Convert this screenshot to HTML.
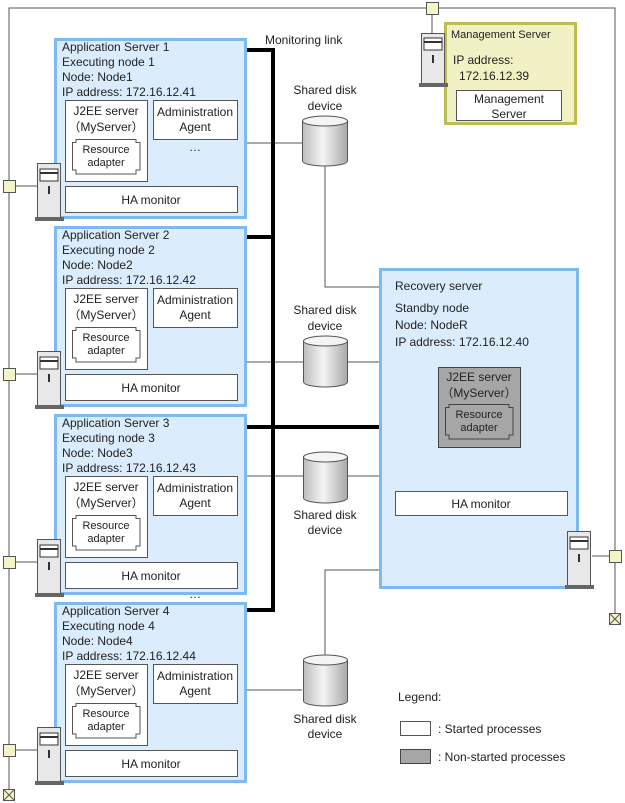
<!DOCTYPE html>
<html><head><meta charset="utf-8"><style>
html,body{margin:0;padding:0;background:#fff}
svg{display:block}
text{font-family:"Liberation Sans",sans-serif;font-size:12px;fill:#222}
.s{font-size:11px}
.c{text-anchor:middle}
</style></head><body>
<svg width="625" height="803" viewBox="0 0 625 803" xmlns="http://www.w3.org/2000/svg">
<defs>
<linearGradient id="cy" x1="0" x2="1" y1="0" y2="0">
<stop offset="0" stop-color="#bdbdbd"/><stop offset="0.45" stop-color="#f4f4f4"/><stop offset="1" stop-color="#a8a8a8"/>
</linearGradient>
</defs>
<g stroke="#555" stroke-width="1" fill="none">
<polyline points="9,790 9,8 615,8 615,615"/>
<line x1="432" y1="8" x2="432" y2="33"/>
<line x1="245" y1="143" x2="302" y2="143"/>
<polyline points="325,165 325,287 380,287"/>
<line x1="245" y1="362" x2="380" y2="362"/>
<line x1="245" y1="476" x2="380" y2="476"/>
<polyline points="325,655 325,570 380,570"/>
<line x1="245" y1="690" x2="302" y2="690"/>
<line x1="592" y1="556" x2="610" y2="556"/>
</g>
<g stroke="#000" stroke-width="4" fill="none">
<polyline points="245,50 273,50 273,610 245,610"/>
<line x1="245" y1="237" x2="273" y2="237"/>
<line x1="245" y1="427" x2="380" y2="427"/>
</g>
<text x="265" y="44">Monitoring link</text>

<g transform="translate(0,38)">
<rect x="55.5" y="1.5" width="190" height="178" fill="#dbecfd" stroke="#7fb9f2" stroke-width="3"/>
<text x="62" y="13">Application Server 1</text><text x="62" y="28">Executing node 1</text><text x="62" y="43">Node: Node1</text><text x="62" y="58">IP address: 172.16.12.41</text>
<rect x="65.5" y="62.5" width="82" height="81" fill="#fff" stroke="#555"/>
<text class="c" x="106" y="77">J2EE server</text><text class="c" x="106" y="93">（MyServer）</text>
<polygon points="76,101.5 136,101.5 136,104.5 140,104.5 140,132 136,132 136,136 76,136 76,132 72.5,132 72.5,104.5 76,104.5" fill="#fff" stroke="#555"/>
<text class="c s" x="106" y="115">Resource</text><text class="c s" x="106" y="128">adapter</text>
<rect x="153.5" y="62.5" width="84" height="39" fill="#fff" stroke="#555"/>
<text class="c" x="195" y="78">Administration</text><text class="c" x="195" y="93">Agent</text>
<text class="c" x="195" y="113">…</text>
<rect x="65.5" y="148.5" width="172" height="26" fill="#fff" stroke="#555"/>
<text class="c" x="151" y="166">HA monitor</text>
<line x1="15" y1="148" x2="37" y2="148" stroke="#555"/>
<rect x="3.5" y="142.5" width="12" height="12" fill="#f5f3c8" stroke="#555"/>
<rect x="37.5" y="125.5" width="23" height="54" fill="#e8e8e8" stroke="#555"/>
<rect x="40" y="131" width="18" height="12" fill="#fff" stroke="#333"/><line x1="40" y1="135" x2="58" y2="135" stroke="#333" stroke-width="2"/>
<rect x="48" y="148" width="2" height="8" fill="#333"/>
<rect x="35" y="179" width="29" height="4" fill="#666"/>
</g>
<g transform="translate(0,226)">
<rect x="55.5" y="1.5" width="190" height="178" fill="#dbecfd" stroke="#7fb9f2" stroke-width="3"/>
<text x="62" y="13">Application Server 2</text><text x="62" y="28">Executing node 2</text><text x="62" y="43">Node: Node2</text><text x="62" y="58">IP address: 172.16.12.42</text>
<rect x="65.5" y="62.5" width="82" height="81" fill="#fff" stroke="#555"/>
<text class="c" x="106" y="77">J2EE server</text><text class="c" x="106" y="93">（MyServer）</text>
<polygon points="76,101.5 136,101.5 136,104.5 140,104.5 140,132 136,132 136,136 76,136 76,132 72.5,132 72.5,104.5 76,104.5" fill="#fff" stroke="#555"/>
<text class="c s" x="106" y="115">Resource</text><text class="c s" x="106" y="128">adapter</text>
<rect x="153.5" y="62.5" width="84" height="39" fill="#fff" stroke="#555"/>
<text class="c" x="195" y="78">Administration</text><text class="c" x="195" y="93">Agent</text>
<text class="c" x="195" y="161">…</text>
<rect x="65.5" y="148.5" width="172" height="26" fill="#fff" stroke="#555"/>
<text class="c" x="151" y="166">HA monitor</text>
<line x1="15" y1="148" x2="37" y2="148" stroke="#555"/>
<rect x="3.5" y="142.5" width="12" height="12" fill="#f5f3c8" stroke="#555"/>
<rect x="37.5" y="125.5" width="23" height="54" fill="#e8e8e8" stroke="#555"/>
<rect x="40" y="131" width="18" height="12" fill="#fff" stroke="#333"/><line x1="40" y1="135" x2="58" y2="135" stroke="#333" stroke-width="2"/>
<rect x="48" y="148" width="2" height="8" fill="#333"/>
<rect x="35" y="179" width="29" height="4" fill="#666"/>
</g>
<g transform="translate(0,414)">
<rect x="55.5" y="1.5" width="190" height="178" fill="#dbecfd" stroke="#7fb9f2" stroke-width="3"/>
<text x="62" y="13">Application Server 3</text><text x="62" y="28">Executing node 3</text><text x="62" y="43">Node: Node3</text><text x="62" y="58">IP address: 172.16.12.43</text>
<rect x="65.5" y="62.5" width="82" height="81" fill="#fff" stroke="#555"/>
<text class="c" x="106" y="77">J2EE server</text><text class="c" x="106" y="93">（MyServer）</text>
<polygon points="76,101.5 136,101.5 136,104.5 140,104.5 140,132 136,132 136,136 76,136 76,132 72.5,132 72.5,104.5 76,104.5" fill="#fff" stroke="#555"/>
<text class="c s" x="106" y="115">Resource</text><text class="c s" x="106" y="128">adapter</text>
<rect x="153.5" y="62.5" width="84" height="39" fill="#fff" stroke="#555"/>
<text class="c" x="195" y="78">Administration</text><text class="c" x="195" y="93">Agent</text>
<text class="c" x="195" y="184">…</text>
<rect x="65.5" y="148.5" width="172" height="26" fill="#fff" stroke="#555"/>
<text class="c" x="151" y="166">HA monitor</text>
<line x1="15" y1="148" x2="37" y2="148" stroke="#555"/>
<rect x="3.5" y="142.5" width="12" height="12" fill="#f5f3c8" stroke="#555"/>
<rect x="37.5" y="125.5" width="23" height="54" fill="#e8e8e8" stroke="#555"/>
<rect x="40" y="131" width="18" height="12" fill="#fff" stroke="#333"/><line x1="40" y1="135" x2="58" y2="135" stroke="#333" stroke-width="2"/>
<rect x="48" y="148" width="2" height="8" fill="#333"/>
<rect x="35" y="179" width="29" height="4" fill="#666"/>
</g>
<g transform="translate(0,602)">
<rect x="55.5" y="1.5" width="190" height="178" fill="#dbecfd" stroke="#7fb9f2" stroke-width="3"/>
<text x="62" y="13">Application Server 4</text><text x="62" y="28">Executing node 4</text><text x="62" y="43">Node: Node4</text><text x="62" y="58">IP address: 172.16.12.44</text>
<rect x="65.5" y="62.5" width="82" height="81" fill="#fff" stroke="#555"/>
<text class="c" x="106" y="77">J2EE server</text><text class="c" x="106" y="93">（MyServer）</text>
<polygon points="76,101.5 136,101.5 136,104.5 140,104.5 140,132 136,132 136,136 76,136 76,132 72.5,132 72.5,104.5 76,104.5" fill="#fff" stroke="#555"/>
<text class="c s" x="106" y="115">Resource</text><text class="c s" x="106" y="128">adapter</text>
<rect x="153.5" y="62.5" width="84" height="39" fill="#fff" stroke="#555"/>
<text class="c" x="195" y="78">Administration</text><text class="c" x="195" y="93">Agent</text>
<rect x="65.5" y="148.5" width="172" height="26" fill="#fff" stroke="#555"/>
<text class="c" x="151" y="166">HA monitor</text>
<line x1="15" y1="148" x2="37" y2="148" stroke="#555"/>
<rect x="3.5" y="142.5" width="12" height="12" fill="#f5f3c8" stroke="#555"/>
<rect x="37.5" y="125.5" width="23" height="54" fill="#e8e8e8" stroke="#555"/>
<rect x="40" y="131" width="18" height="12" fill="#fff" stroke="#333"/><line x1="40" y1="135" x2="58" y2="135" stroke="#333" stroke-width="2"/>
<rect x="48" y="148" width="2" height="8" fill="#333"/>
<rect x="35" y="179" width="29" height="4" fill="#666"/>
</g>
<rect x="3.5" y="789.5" width="11" height="11" fill="#f5f3c8" stroke="#555"/>
<path d="M3.5,789.5L14.5,800.5M14.5,789.5L3.5,800.5" stroke="#555"/>

<g stroke="#555" fill="url(#cy)">
<path d="M302.5,121 v40 a22.5,5 0 0 0 45,0 v-40 z"/><ellipse cx="325" cy="121" rx="22.5" ry="5" fill="#f4f4f4"/>
<path d="M303.5,341 v41 a22,5 0 0 0 44,0 v-41 z"/><ellipse cx="325.5" cy="341" rx="22" ry="5" fill="#f4f4f4"/>
<path d="M303.5,457 v41 a22,5 0 0 0 44,0 v-41 z"/><ellipse cx="325.5" cy="457" rx="22" ry="5" fill="#f4f4f4"/>
<path d="M303.5,660 v41 a22,5 0 0 0 44,0 v-41 z"/><ellipse cx="325.5" cy="660" rx="22" ry="5" fill="#f4f4f4"/>
</g>
<text class="c" x="325" y="94">Shared disk</text><text class="c" x="325" y="110">device</text>
<text class="c" x="325" y="314">Shared disk</text><text class="c" x="325" y="330">device</text>
<text class="c" x="325" y="519">Shared disk</text><text class="c" x="325" y="534">device</text>
<text class="c" x="325" y="723">Shared disk</text><text class="c" x="325" y="738">device</text>

<rect x="380.5" y="269.5" width="197" height="318" fill="#dbecfd" stroke="#7fb9f2" stroke-width="3"/>
<text x="395" y="290">Recovery server</text>
<text x="395" y="312">Standby node</text>
<text x="395" y="329">Node: NodeR</text>
<text x="395" y="346">IP address: 172.16.12.40</text>
<rect x="438.5" y="367.5" width="82" height="80" fill="#a6a6a6" stroke="#444"/>
<text class="c" x="479" y="381">J2EE server</text><text class="c" x="479" y="397">（MyServer）</text>
<polygon points="449,404.5 509,404.5 509,407.5 513,407.5 513,435 509,435 509,439 449,439 449,435 445.5,435 445.5,407.5 449,407.5" fill="#a6a6a6" stroke="#444"/>
<text class="c s" x="479" y="418">Resource</text><text class="c s" x="479" y="431">adapter</text>
<rect x="395.5" y="491.5" width="172" height="24" fill="#fff" stroke="#555"/>
<text class="c" x="481" y="508">HA monitor</text>
<rect x="567.5" y="531.5" width="23" height="54" fill="#e8e8e8" stroke="#555"/>
<rect x="570" y="537" width="18" height="12" fill="#fff" stroke="#333"/><line x1="570" y1="541" x2="588" y2="541" stroke="#333" stroke-width="2"/>
<rect x="578" y="554" width="2" height="8" fill="#333"/>
<rect x="565" y="585" width="29" height="4" fill="#666"/>
<rect x="609.5" y="550.5" width="12" height="12" fill="#f5f3c8" stroke="#555"/>
<rect x="609.5" y="613.5" width="11" height="11" fill="#f5f3c8" stroke="#555"/>
<path d="M609.5,613.5L620.5,624.5M620.5,613.5L609.5,624.5" stroke="#555"/>

<rect x="426.5" y="2.5" width="12" height="12" fill="#f5f3c8" stroke="#555"/>
<rect x="445.5" y="23.5" width="130" height="100" fill="#f2f1c6" stroke="#bcbd52" stroke-width="3"/>
<text class="s" x="451" y="38">Management Server</text>
<text x="453" y="64">IP address:</text>
<text x="459" y="80">172.16.12.39</text>
<rect x="456.5" y="90.5" width="105" height="30" fill="#fff" stroke="#555"/>
<text class="c" x="509" y="103">Management</text><text class="c" x="509" y="118">Server</text>
<rect x="421.5" y="33.5" width="23" height="50" fill="#e8e8e8" stroke="#555"/>
<rect x="424" y="38" width="18" height="12" fill="#fff" stroke="#333"/><line x1="424" y1="42" x2="442" y2="42" stroke="#333" stroke-width="2"/>
<rect x="432" y="55" width="2" height="8" fill="#333"/>
<rect x="419" y="83" width="29" height="4" fill="#666"/>

<text x="398" y="701">Legend:</text>
<rect x="400.5" y="721.5" width="30" height="14" fill="#fff" stroke="#555"/>
<text x="438" y="733">: Started processes</text>
<rect x="400.5" y="749.5" width="30" height="14" fill="#a6a6a6" stroke="#444"/>
<text x="438" y="761">: Non-started processes</text>
</svg>
</body></html>
